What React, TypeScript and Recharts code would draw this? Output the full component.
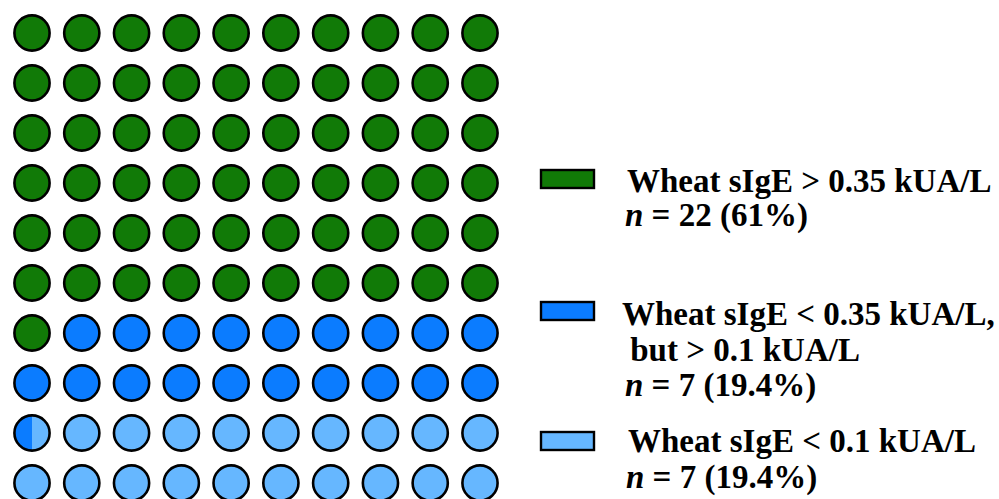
import React from 'react';
import { ScatterChart, Scatter, XAxis, YAxis } from 'recharts';

// waffle chart: 100 circles, shares in percent (as drawn: 61 / 19.5 / 19.5)
const categories = ['Wheat sIgE > 0.35 kUA/L', 'Wheat sIgE < 0.35 kUA/L, but > 0.1 kUA/L', 'Wheat sIgE < 0.1 kUA/L'];
const percents = [61, 19.5, 19.5];
const colors = ['#117a07', '#0b7cff', '#66b7ff'];

const legendLines = [
  ['Wheat sIgE > 0.35 kUA/L', 'n = 22 (61%)'],
  ['Wheat sIgE < 0.35 kUA/L,', ' but > 0.1 kUA/L', 'n = 7 (19.4%)'],
  ['Wheat sIgE < 0.1 kUA/L', 'n = 7 (19.4%)'],
];

const GRID = 10;

// build the 100 cells from the percents
const bounds = percents.reduce<number[]>((acc, p) => {
  acc.push((acc.length ? acc[acc.length - 1] : 0) + p);
  return acc;
}, []);

const cells = Array.from({ length: GRID * GRID }, (_, i) => {
  const cat = bounds.findIndex((b) => i < b);
  const b = bounds[cat];
  const split = b < i + 1 ? b - i : null;
  return {
    x: i % GRID,
    y: Math.floor(i / GRID),
    cat,
    split,
    next: split !== null ? Math.min(cat + 1, colors.length - 1) : cat,
  };
});

const R = 17.6;
const SW = 2.6;

const WaffleDot = (props: any) => {
  const { cx, cy, payload, index } = props;
  if (cx == null || cy == null) return null;
  if (payload.split === null) {
    return <circle cx={cx} cy={cy} r={R} fill={colors[payload.cat]} stroke="#000" strokeWidth={SW} />;
  }
  const id = `cut-${index}`;
  const w = 2 * R * payload.split;
  return (
    <g>
      <defs>
        <clipPath id={id}>
          <rect x={cx - R} y={cy - R} width={w} height={2 * R} />
        </clipPath>
      </defs>
      <circle cx={cx} cy={cy} r={R} fill={colors[payload.next]} />
      <circle cx={cx} cy={cy} r={R} fill={colors[payload.cat]} clipPath={`url(#${id})`} />
      <circle cx={cx} cy={cy} r={R} fill="none" stroke="#000" strokeWidth={SW} />
    </g>
  );
};

const legendPos = [
  { box: 170, textX: [627, 625], base: [192, 226] },
  { box: 302, textX: [622, 622, 625], base: [325, 361, 396] },
  { box: 432, textX: [628, 626], base: [452, 488] },
];

const LegendText = ({ text, x, y }: { text: string; x: number; y: number }) => {
  const italic = text.startsWith('n =');
  return (
    <text
      x={x}
      y={y}
      fontFamily='"Liberation Serif", "Times New Roman", serif'
      fontWeight="bold"
      fontSize={33}
      fill="#000"
      style={{ whiteSpace: 'pre' }}
    >
      {italic ? (
        <>
          <tspan fontStyle="italic">n</tspan>
          <tspan>{text.slice(1)}</tspan>
        </>
      ) : (
        text
      )}
    </text>
  );
};

export default function App() {
  return (
    <div style={{ position: 'absolute', left: 0, top: 0, width: 999, height: 499, background: '#fff', overflow: 'hidden' }}>
      <ScatterChart width={999} height={499} margin={{ top: 33, right: 519, bottom: 16, left: 32 }}>
        <XAxis type="number" dataKey="x" domain={[0, GRID - 1]} hide />
        <YAxis type="number" dataKey="y" domain={[0, GRID - 1]} reversed hide />
        <Scatter data={cells} shape={<WaffleDot />} isAnimationActive={false} />
      </ScatterChart>
      <svg width={999} height={499} style={{ position: 'absolute', left: 0, top: 0 }}>
        {categories.map((c, k) => (
          <g key={c}>
            <rect x={541} y={legendPos[k].box} width={53} height={18} fill={colors[k]} stroke="#000" strokeWidth={2.4} />
            {legendLines[k].map((t, j) => (
              <LegendText key={j} text={t} x={legendPos[k].textX[j]} y={legendPos[k].base[j]} />
            ))}
          </g>
        ))}
      </svg>
    </div>
  );
}
